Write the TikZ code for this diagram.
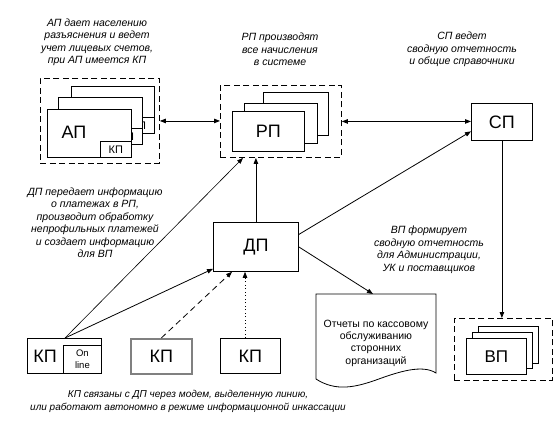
\documentclass[tikz,border=0pt]{standalone}
\usepackage{fontspec}
\setmainfont{Liberation Sans}
\usetikzlibrary{arrows.meta,calc}
\begin{document}
\begin{tikzpicture}[x=1pt,y=-1pt,
  box/.style={draw, fill=white, line width=0.8pt, inner sep=0pt, anchor=north west},
  dbox/.style={draw, line width=0.9pt, dash pattern=on 6pt off 3.5pt, inner sep=0pt, anchor=north west},
  biglbl/.style={font=\fontsize{18}{20}\selectfont},
  captxt/.style={font=\fontsize{10.5}{12.5}\selectfont\itshape, align=center},
  mytip/.tip={Triangle[length=6pt,width=4.5pt]},
  arr/.style={line width=0.8pt, -mytip},
  darr/.style={line width=0.8pt, mytip-mytip},
  kpsmall/.style={draw, fill=white, line width=0.8pt, inner sep=0pt, anchor=south east,
    minimum width=31, minimum height=16, font=\fontsize{11}{11}\selectfont},
]
\useasboundingbox (0,0) rectangle (557,421);

% captions
\node[captxt] (apcap) at (97,42.5) {АП дает населению\\разъяснения и ведет\\учет лицевых счетов,\\при АП имеется КП};
\node[captxt] (rpcap) at (280,49.5) {РП производят\\все начисления\\в системе};
\node[captxt] (spcap) at (462,49.5) {СП ведет\\сводную отчетность\\и общие справочники};
\node[captxt] (dpcap) at (95,222.5) {ДП передает информацию\\о платежах в РП,\\производит обработку\\непрофильных платежей\\и создает информацию\\для ВП};
\node[captxt] (vpcap) at (429,249.5) {ВП формирует\\сводную отчетность\\для Администрации,\\УК и поставщиков};
\node[captxt, font=\fontsize{10}{13}\selectfont\itshape] (botcap) at (188,401) {КП связаны с ДП через модем, выделенную линию,\\или работают автономно в режиме информационной инкассации};

% AP group
\node[dbox, minimum width=119, minimum height=85] (apbox) at (40,78) {};
\node[box, minimum width=83, minimum height=47] (ap3) at (71,86) {};
\node[kpsmall] (ap3k) at (ap3.south east) {КП};
\node[box, minimum width=84, minimum height=47] (ap2) at (58,97) {};
\node[kpsmall] (ap2k) at (ap2.south east) {КП};
\node[box, minimum width=84, minimum height=48] (ap1) at (47,109) {};
\node[kpsmall] (ap1k) at (ap1.south east) {КП};
\node[biglbl] (aplbl) at (74,132) {АП};

% RP group
\node[dbox, minimum width=121, minimum height=72] (rpbox) at (220,85) {};
\node[box, minimum width=65, minimum height=43] (rp3) at (263,92) {};
\node[box, minimum width=73, minimum height=40] (rp2) at (244,103) {};
\node[box, minimum width=72, minimum height=40, biglbl] (rp1) at (232,111) {РП};

% SP
\node[box, minimum width=61, minimum height=37, biglbl] (sp) at (471,103) {СП};

% DP
\node[box, minimum width=85, minimum height=49, biglbl] (dp) at (213,222) {ДП};

% VP group
\node[dbox, minimum width=98, minimum height=62] (vpbox) at (454,318) {};
\node[box, minimum width=60, minimum height=37] (vp3) at (478,326) {};
\node[box, minimum width=60, minimum height=36] (vp2) at (472,332) {};
\node[box, minimum width=60, minimum height=36, font=\fontsize{17}{19}\selectfont] (vp1) at (466,338) {ВП};

% KP boxes
\node[box, minimum width=74, minimum height=35] (kp1) at (27,338) {};
\node[draw, fill=white, line width=0.8pt, inner sep=0pt, anchor=south east, minimum width=38, minimum height=28,
  align=center, font=\fontsize{9.5}{11.5}\selectfont] (kp1in) at (kp1.south east) {On\\line};
\node[biglbl] (kp1lbl) at (45,356) {КП};
\node[box, minimum width=61, minimum height=35, biglbl, draw=black!50, line width=1.6pt] (kp2) at (130,338) {КП};
\node[box, minimum width=60, minimum height=35, biglbl] (kp3) at (220,338) {КП};

% document shape
\draw[line width=0.8pt, fill=white] (316,294) -- (436,294) -- (436,373)
  .. controls (422,364) and (398,372) .. (376,380)
  .. controls (356,387) and (336,392) .. (316,379) -- cycle;
\node[font=\fontsize{10.5}{12.3}\selectfont, align=center] (doc) at (376,343) {Отчеты по кассовому\\обслуживанию\\сторонних\\организаций};
\coordinate (doctop) at (373,294);

% connectors
\draw[darr] (apbox.east) -- (apbox.east -| rpbox.west);
\draw[darr] (rpbox.east) -- (rpbox.east -| sp.west);
\draw[arr] ($(dp.north east)!0.25!(dp.south east)$) -- ($(sp.south west)!0.25!(sp.north west)$);
\draw[arr] (dp.north) -- (dp.north |- rpbox.south);
\coordinate (kp1top) at ($(kp1.north west)+(38,0)$);
\draw[line width=0.6pt, -mytip] (kp1top) -- ($(rpbox.south west)+(23,0)$);
\draw[arr] (kp1top) -- ($(dp.south west)+(0,-3)$);
\draw[arr, dash pattern=on 6pt off 4pt] (kp2.north) -- ($(dp.south west)+(19,0)$);
\coordinate (kp3top) at ($(kp3.north west)+(25,0)$);
\draw[arr, dash pattern=on 1pt off 2.5pt] (kp3top) -- (kp3top |- dp.south);
\draw[arr] (dp.east) -- (doctop);
\draw[arr] (sp.south) -- (sp.south |- vpbox.north);
\end{tikzpicture}
\end{document}
